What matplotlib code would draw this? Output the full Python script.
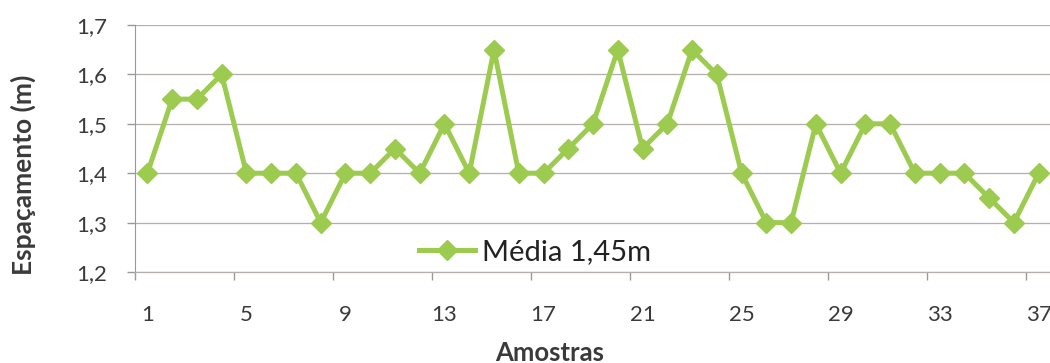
import matplotlib.pyplot as plt
import numpy as np
from matplotlib.ticker import FixedLocator

plt.rcParams['font.family'] = ['Lato', 'DejaVu Sans']

samples = np.arange(1, 38)
spacing = [1.40, 1.55, 1.55, 1.60, 1.40, 1.40, 1.40, 1.30, 1.40, 1.40,
           1.45, 1.40, 1.50, 1.40, 1.65, 1.40, 1.40, 1.45, 1.50, 1.65,
           1.45, 1.50, 1.65, 1.60, 1.40, 1.30, 1.30, 1.50, 1.40, 1.50,
           1.50, 1.40, 1.40, 1.40, 1.35, 1.30, 1.40]
y_ticks = [1.2, 1.3, 1.4, 1.5, 1.6, 1.7]
x_labels = [1, 5, 9, 13, 17, 21, 25, 29, 33, 37]

C_LINE = '#9CCB50'
C_GRID = '#B5AEAA'
C_TEXT = '#3A3A3A'

fig = plt.figure(figsize=(10.5, 3.63), dpi=100)
ax = fig.add_axes([0.1286, 0.2507, 0.8724, 0.6803])

ax.plot(samples, spacing, color=C_LINE, lw=3.6, marker='D', ms=10,
        mec=C_LINE, mfc=C_LINE, label='Média 1,45m', clip_on=False)

ax.set_xlim(0.5, 37.5)
ax.set_ylim(1.2, 1.7)
ax.set_yticks(y_ticks)
ax.set_yticklabels([f'{v:.1f}'.replace('.', ',') for v in y_ticks])

# labels on categories, tick marks between categories
ax.set_xticks(x_labels)
ax.set_xticklabels([str(v) for v in x_labels])
ax.xaxis.set_minor_locator(FixedLocator([v - 0.5 for v in x_labels]))
ax.tick_params(axis='x', which='major', length=0, pad=24, labelsize=16, labelcolor=C_TEXT)
ax.tick_params(axis='x', which='minor', length=6, color='#999999', width=1)
ax.tick_params(axis='y', length=6, color='#999999', width=1, labelsize=16, pad=14,
               labelcolor=C_TEXT)

ax.grid(axis='y', color=C_GRID, lw=0.9)
ax.set_axisbelow(True)
for s in ['top', 'right']:
    ax.spines[s].set_visible(False)
ax.spines['left'].set_color('#999999')
ax.spines['bottom'].set_color(C_GRID)
ax.spines['bottom'].set_linewidth(0.9)

ax.set_xlabel('Amostras', fontsize=18.5, fontweight='bold', color=C_TEXT)
ax.set_ylabel('Espaçamento (m)', fontsize=19, fontweight='bold', color=C_TEXT)
ax.xaxis.set_label_coords(0.453, -0.28)
ax.yaxis.set_label_coords(-0.108, 0.395)

ax.legend(loc='center', bbox_to_anchor=(0.437, 0.082), frameon=False, fontsize=21,
          handlelength=1.9, handletextpad=0.25, labelcolor='#222222')

plt.savefig('out.png', dpi=100)
